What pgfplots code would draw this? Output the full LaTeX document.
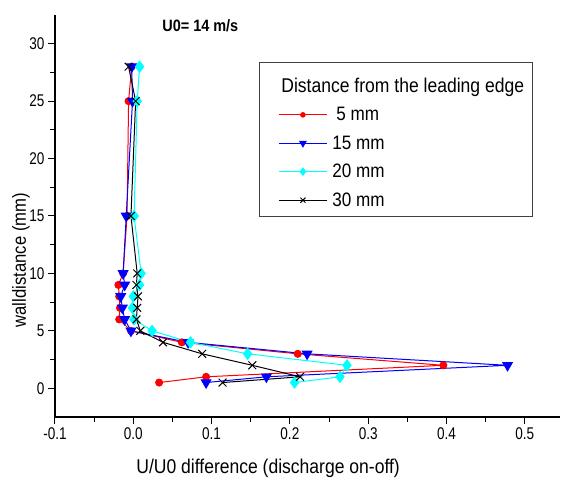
\documentclass[border=0pt]{standalone}
\usepackage{fontspec}
\setmainfont{Liberation Sans}[FakeStretch=0.88]
\newfontfamily\tickfont{Liberation Sans}[FakeStretch=0.8]
\usepackage{pgfplots}
\usepackage{pgfplotstable}
\pgfplotsset{compat=1.18}
\definecolor{cyanrgb}{RGB}{0,255,255}
\definecolor{redrgb}{RGB}{255,0,0}
\definecolor{bluergb}{RGB}{0,0,255}

% velocity difference profiles, columns: U/U0 difference, wall distance (mm)
\pgfplotstableread{
x      y
-0.002 28
-0.006 25
-0.008 15
-0.013 10
-0.019 9
-0.018 8
-0.017 7
-0.018 6
-0.003 5
0.062  4
0.210  3
0.396  2
0.093  1
0.033  0.5
}\dfive
\pgfplotstableread{
x      y
-0.002 28
-0.001 25
-0.009 15
-0.013 10
-0.011 9
-0.016 8
-0.014 7
-0.011 6
-0.003 5
0.070  4
0.222  3
0.478  2
0.170  1
0.093  0.5
}\dfifteen
\pgfplotstableread{
x      y
0.008  28
0.005  25
0.001  15
0.010  10
0.008  9
0.000  8
-0.001 7
0.001  6
0.024  5
0.073  4
0.146  3
0.273  2
0.264  1
0.206  0.5
}\dtwenty
\pgfplotstableread{
x      y
-0.006 28
0.003  25
-0.003 15
0.005  10
0.004  9
0.006  8
0.005  7
0.004  6
0.009  5
0.038  4
0.088  3
0.152  2
0.213  1
0.114  0.5
}\dthirty

\begin{document}
\begin{tikzpicture}
% page frame: plot area from (0,0) to (505bp,402bp)
\path (-55bp,-68bp) (508bp,417bp);
\begin{axis}[
  at={(0,0)}, anchor=south west,
  scale only axis, width=505bp, height=402bp,
  xmin=-0.1, xmax=0.545, ymin=-2.5, ymax=32.5,
  clip=false,
  axis lines=left,
  axis line style={-, line width=1.2bp},
  tick align=outside,
  xtick={-0.1,0,0.1,0.2,0.3,0.4,0.5},
  ytick={0,5,10,15,20,25,30},
  major tick length=7bp,
  tick style={draw=none},
  /pgf/number format/assume math mode=true,
  xticklabel style={/pgf/number format/.cd, fixed, fixed zerofill, precision=1},
  ticklabel style={font=\tickfont\fontsize{17}{19}\selectfont},
  xlabel={U/U0 difference (discharge on-off)},
  ylabel={walldistance (mm)},
  xlabel style={font=\fontsize{20}{22}\selectfont,
    at={(axis description cs:0.422,0)}, anchor=center, yshift=-51bp},
  ylabel style={font=\fontsize{19}{21}\selectfont,
    at={(axis description cs:0,0.39)}, anchor=center, yshift=34bp},
  legend image code/.code={
    \path (-13bp,0bp);
    \draw[mark repeat=2, mark phase=2, every mark/.append style={scale=0.65}]
      plot coordinates {(0bp,0bp) (24bp,0bp) (48bp,0bp)};},
  legend style={at={(0.404,0.883)}, anchor=north west,
    draw=black!75, line width=0.8bp, inner xsep=6bp, inner ysep=7bp,
    row sep=9.5bp, column sep=3bp,
    font=\fontsize{19.5}{22}\selectfont},
  legend cell align=left,
  legend entries={\rule{0pt}{21bp}\hspace*{-51bp}\fontsize{20}{22}\selectfont Distance from the leading edge,
    \hspace*{4bp}5 mm, 15 mm, 20 mm, 30 mm},
]
\addlegendimage{empty legend}
\addplot[redrgb, line width=1bp, mark=*, mark size=3.5bp] table {\dfive};
\addplot[bluergb, line width=1bp, mark=triangle*, mark size=5.5bp,
  mark options={rotate=180}] table {\dfifteen};
\addplot[cyanrgb, line width=1bp, mark=diamond*, mark size=5.5bp] table {\dtwenty};
\addplot[black, line width=1bp, mark=x, mark size=5.5bp] table {\dthirty};
% outward tick marks: major 7bp, minor 5bp long
\addplot[black, line width=1bp, no marks, forget plot, unbounded coords=jump]
  coordinates {
  (-0.1,-2.5) (-0.1,-3.109) (-0.1,nan)
  (0,-2.5) (0,-3.109) (0,nan)
  (0.1,-2.5) (0.1,-3.109) (0.1,nan)
  (0.2,-2.5) (0.2,-3.109) (0.2,nan)
  (0.3,-2.5) (0.3,-3.109) (0.3,nan)
  (0.4,-2.5) (0.4,-3.109) (0.4,nan)
  (0.5,-2.5) (0.5,-3.109) (0.5,nan)
  (-0.05,-2.5) (-0.05,-2.935) (-0.05,nan)
  (0.05,-2.5) (0.05,-2.935) (0.05,nan)
  (0.15,-2.5) (0.15,-2.935) (0.15,nan)
  (0.25,-2.5) (0.25,-2.935) (0.25,nan)
  (0.35,-2.5) (0.35,-2.935) (0.35,nan)
  (0.45,-2.5) (0.45,-2.935)
  };
\addplot[black, line width=1bp, no marks, forget plot, unbounded coords=jump]
  coordinates {
  (-0.1,0) (-0.10894,0) (nan,0)
  (-0.1,5) (-0.10894,5) (nan,5)
  (-0.1,10) (-0.10894,10) (nan,10)
  (-0.1,15) (-0.10894,15) (nan,15)
  (-0.1,20) (-0.10894,20) (nan,20)
  (-0.1,25) (-0.10894,25) (nan,25)
  (-0.1,30) (-0.10894,30) (nan,30)
  (-0.1,2.5) (-0.10639,2.5) (nan,2.5)
  (-0.1,7.5) (-0.10639,7.5) (nan,7.5)
  (-0.1,12.5) (-0.10639,12.5) (nan,12.5)
  (-0.1,17.5) (-0.10639,17.5) (nan,17.5)
  (-0.1,22.5) (-0.10639,22.5) (nan,22.5)
  (-0.1,27.5) (-0.10639,27.5)
  };
\node[font=\bfseries\fontsize{16.5}{18}\selectfont] at (axis cs:0.0856,31.6) {U0= 14 m/s};
\end{axis}
\end{tikzpicture}
\end{document}
